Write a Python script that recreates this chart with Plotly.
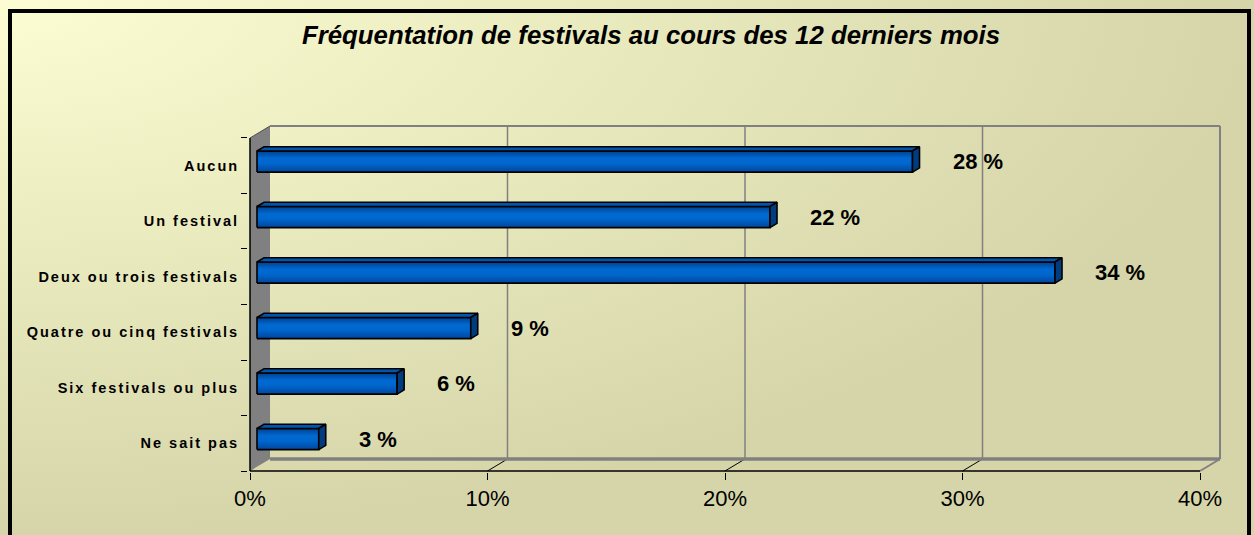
import base64
import plotly.graph_objects as go

# ---------------- data ----------------
categories = ["Aucun", "Un festival", "Deux ou trois festivals",
              "Quatre ou cinq festivals", "Six festivals ou plus", "Ne sait pas"]
values = [27.6, 21.6, 33.6, 9.0, 5.9, 2.6]
x_tickvals = [0, 10, 20, 30, 40]
x_ticktext = ["0%", "10%", "20%", "30%", "40%"]
title_text = "Fréquentation de festivals au cours des 12 derniers mois"

# ---------------- geometry / style ----------------
W, H = 1254, 535
ML, MR, MT, MB = 248, 30, 124, 63
PW, PH = W - ML - MR, H - MT - MB
XR = [-0.0842, 41.01]
YR = [-0.018, 6.252]
DX, DY = 0.842, 0.216          # depth of the 3D box in data units
F1, F2 = 0.35, 0.70            # depth fractions of the bars
HH = 0.19                      # half bar thickness
N = len(categories)
FONT = "Liberation Sans, Arial, sans-serif"

fig = go.Figure()

# bars (front, top, side faces)
for i, (cat, v) in enumerate(zip(categories, values)):
    c = (N - 0.5) - i
    x0, x1 = F1 * DX, v + F1 * DX
    y0, y1 = c - HH + F1 * DY, c + HH + F1 * DY
    fig.add_trace(go.Scatter(
        x=[x0, x1, x1, x0, x0], y=[y0, y0, y1, y1, y0], mode="lines",
        fill="toself",
        fillgradient=dict(type="vertical", start=y0, stop=y1,
                          colorscale=[[0, "#00469E"], [0.4, "#0066CC"],
                                      [0.65, "#006AD2"], [1, "#00408E"]]),
        line=dict(color="black", width=1.6), hoverinfo="skip", showlegend=False))
    ddx, ddy = (F2 - F1) * DX, (F2 - F1) * DY
    fig.add_trace(go.Scatter(
        x=[x0, x1, x1 + ddx, x0 + ddx, x0], y=[y1, y1, y1 + ddy, y1 + ddy, y1],
        mode="lines", fill="toself", fillcolor="#0056AC",
        line=dict(color="black", width=1.6), hoverinfo="skip", showlegend=False))
    fig.add_trace(go.Scatter(
        x=[x1, x1 + ddx, x1 + ddx, x1, x1], y=[y0, y0 + ddy, y1 + ddy, y1, y0],
        mode="lines", fill="toself", fillcolor="#003D80",
        line=dict(color="black", width=1.6), hoverinfo="skip", showlegend=False))
    fig.add_annotation(x=x1, y=c + F1 * DY, text=f"{round(v)} %", showarrow=False,
                       xanchor="left", yanchor="middle", xshift=38,
                       font=dict(family=FONT, size=22, color="black", weight="bold"))

xmax = x_tickvals[-1]
top = N
shapes = []
# left wall
shapes.append(dict(type="path", path=f"M 0,0 L 0,{top} L {DX},{top+DY} L {DX},{DY} Z",
                   fillcolor="#808080", line=dict(width=0), layer="below"))
# back wall gridlines + floor diagonals
for t in x_tickvals[1:-1]:
    shapes.append(dict(type="line", x0=t + DX, x1=t + DX, y0=DY, y1=top + DY,
                       line=dict(color="#808080", width=1.5), layer="below"))
    shapes.append(dict(type="line", x0=t, x1=t + DX, y0=0, y1=DY,
                       line=dict(color="black", width=1), layer="below"))
# back wall edges
shapes.append(dict(type="line", x0=DX, x1=xmax + DX, y0=top + DY, y1=top + DY,
                   line=dict(color="#808080", width=2), layer="below"))
shapes.append(dict(type="line", x0=xmax + DX, x1=xmax + DX, y0=DY, y1=top + DY,
                   line=dict(color="#808080", width=2), layer="below"))
shapes.append(dict(type="line", x0=DX, x1=xmax + DX, y0=DY, y1=DY,
                   line=dict(color="#808080", width=3.5), layer="below"))
shapes.append(dict(type="line", x0=xmax, x1=xmax + DX, y0=0, y1=DY,
                   line=dict(color="#808080", width=2), layer="below"))
# front edges
shapes.append(dict(type="line", x0=0, x1=xmax, y0=0, y1=0,
                   line=dict(color="black", width=1.5), layer="below"))
shapes.append(dict(type="line", x0=0, x1=0, y0=0, y1=top,
                   line=dict(color="black", width=1.5), layer="below"))
shapes.append(dict(type="line", x0=0, x1=DX, y0=top, y1=top + DY,
                   line=dict(color="#505050", width=1), layer="below"))


# outer black frame (paper coordinates)
def px(xp): return (xp - ML) / PW
def py(yp): return (H - MB - yp) / PH


shapes.append(dict(type="rect", xref="paper", yref="paper",
                   x0=px(10), x1=px(1249), y0=py(11), y1=py(560),
                   line=dict(color="black", width=4), fillcolor="rgba(0,0,0,0)"))

svg = ('<svg xmlns="http://www.w3.org/2000/svg" width="1254" height="535" '
       'preserveAspectRatio="none"><defs><radialGradient id="g" cx="0" cy="0" r="1" '
       'fx="0" fy="0"><stop offset="0" stop-color="#FDFDD3"/>'
       '<stop offset="1" stop-color="#D5D5A9"/></radialGradient></defs>'
       '<rect width="1254" height="535" fill="url(#g)"/></svg>')
src = "data:image/svg+xml;base64," + base64.b64encode(svg.encode()).decode()

fig.update_layout(
    width=W, height=H, autosize=False,
    margin=dict(l=ML, r=MR, t=MT, b=MB, pad=0),
    paper_bgcolor="rgba(0,0,0,0)", plot_bgcolor="rgba(0,0,0,0)",
    shapes=shapes,
    images=[dict(source=src, xref="paper", yref="paper", x=px(0), y=py(0),
                 sizex=W / PW, sizey=H / PH, sizing="stretch",
                 xanchor="left", yanchor="top", layer="below")],
    title=dict(text=title_text, x=651 / W, xanchor="center", xref="container",
               y=1 - 35 / H, yanchor="middle", yref="container",
               font=dict(family=FONT, size=25.8, color="black", weight="bold", style="italic")),
    xaxis=dict(range=XR, tickmode="array", tickvals=x_tickvals, ticktext=x_ticktext,
               ticks="outside", ticklen=7, tickcolor="black", tickwidth=1,
               showgrid=False, zeroline=False, showline=False, automargin=False,
               tickfont=dict(family=FONT, size=22, color="black")),
    yaxis=dict(range=YR, tickmode="array",
               tickvals=[(N - 0.5) - i for i in range(N)], ticktext=categories,
               ticks="outside", ticklen=0, ticklabelstandoff=5,
               minor=dict(tickmode="array", tickvals=list(range(N + 1)), ticks="outside",
                          ticklen=6, tickcolor="black", tickwidth=1, showgrid=False),
               showgrid=False, zeroline=False, showline=False, automargin=False,
               tickfont=dict(family=FONT, size=14.5, color="black", weight="bold")),
)

post = """
document.body.style.margin='0';
document.body.style.overflow='hidden';
document.querySelectorAll('.ytick text').forEach(function(t){t.style.letterSpacing='2px';});
"""
fig.write_html("out.html", post_script=post, config={"displayModeBar": False})
